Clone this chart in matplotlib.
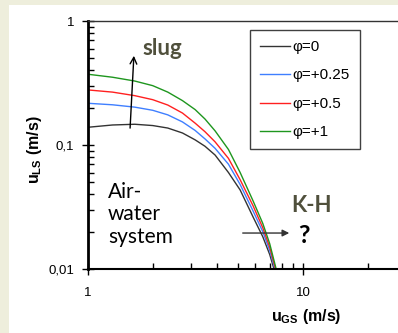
import matplotlib
matplotlib.use("Agg")
import matplotlib.pyplot as plt
from matplotlib.patches import Rectangle
from matplotlib.ticker import FixedLocator, LogLocator, NullFormatter

plt.rcParams["font.family"] = ["Liberation Sans", "DejaVu Sans"]
plt.rcParams["mathtext.fontset"] = "custom"
plt.rcParams["mathtext.rm"] = "Liberation Sans"
plt.rcParams["mathtext.bf"] = "Liberation Sans:bold"

# gas superficial velocity (m/s) and liquid superficial velocity (m/s) per phi
u_gs = [1.0, 1.3, 1.65, 2.0, 2.35, 2.75, 3.15, 3.5, 3.9, 4.5, 5.1, 5.85, 6.5, 7.0]
phi0 = [0.139, 0.145, 0.147, 0.1435, 0.137, 0.125, 0.110, 0.0977, 0.083, 0.060, 0.0434, 0.0264, 0.0182, 0.0131]
phi025 = [0.217, 0.211, 0.202, 0.1905, 0.175, 0.1535, 0.131, 0.112, 0.094, 0.070, 0.048, 0.0295, 0.020, 0.0141]
phi05 = [0.278, 0.267, 0.250, 0.232, 0.210, 0.181, 0.150, 0.128, 0.106, 0.078, 0.0525, 0.0325, 0.0215, 0.0150]
phi1 = [0.372, 0.352, 0.328, 0.301, 0.267, 0.228, 0.193, 0.162, 0.130, 0.092, 0.0600, 0.0356, 0.0233, 0.0160]
end_x = [7.33, 7.4, 7.45, 7.5]
end_y = 0.01

labels = ["φ=0", "φ=+0.25", "φ=+0.5", "φ=+1"]
colors = ["#333333", "#3F7FFF", "#FF2020", "#1E961E"]
series = [phi0, phi025, phi05, phi1]

fig = plt.figure(figsize=(3.98, 3.33), dpi=100)
fig.patch.set_facecolor("#EEEEDC")
fig.patches.append(Rectangle((9 / 398, 0), 1, 328 / 333, transform=fig.transFigure,
                             facecolor="white", edgecolor="none", zorder=-1))

ax = fig.add_axes([88 / 398, 64 / 333, 317.6 / 398, 248 / 333])
ax.set_zorder(1)
ax.set_facecolor("white")

for vals, ex, lab, c in zip(series, end_x, labels, colors):
    ax.plot(u_gs + [ex], vals + [end_y], color=c, lw=1.0, label=lab)

ax.set_xscale("log")
ax.set_yscale("log")
ax.set_xlim(1, 30)
ax.set_ylim(0.01, 1)

ax.xaxis.set_major_locator(FixedLocator([1, 10]))
ax.set_xticklabels(["1", "10"])
ax.xaxis.set_minor_locator(LogLocator(base=10, subs=range(2, 10)))
ax.xaxis.set_minor_formatter(NullFormatter())
ax.yaxis.set_major_locator(FixedLocator([0.01, 0.1, 1]))
ax.set_yticklabels(["0,01", "0,1", "1"])
ax.yaxis.set_minor_locator(LogLocator(base=10, subs=range(2, 10)))
ax.yaxis.set_minor_formatter(NullFormatter())

ax.tick_params(which="major", direction="inout", length=8, width=1, labelsize=9.5, colors="black")
ax.tick_params(which="minor", direction="in", length=4, width=1)
ax.tick_params(axis="x", which="major", pad=9)
ax.tick_params(axis="y", which="major", pad=6)

ax.spines["left"].set_linewidth(2)
ax.spines["bottom"].set_linewidth(1.5)
ax.spines["top"].set_linewidth(1)
ax.spines["top"].set_color("#333333")
ax.spines["right"].set_visible(False)

fig.text(35 / 398, 1 - 150 / 333, r"$\mathbf{u}_{\mathbf{LS}}$ (m/s)", rotation=90,
         ha="center", va="center", fontsize=11.5, fontweight="bold")
fig.text(306 / 398, 1 - 316 / 333, r"$\mathbf{u}_{\mathbf{GS}}$ (m/s)",
         ha="center", va="center", fontsize=11.5, fontweight="bold")

leg = ax.legend(loc="upper left", bbox_to_anchor=(250 / 398, 303 / 333), bbox_transform=fig.transFigure,
                borderaxespad=0, fancybox=False, framealpha=1, edgecolor="#404040",
                fontsize=11, handlelength=2.0, handletextpad=0.15, labelspacing=0.95, borderpad=0.65)
leg.get_frame().set_linewidth(1)

ax.annotate("", xy=(1.637, 0.552), xytext=(1.567, 0.13),
            arrowprops=dict(arrowstyle="->", lw=1, color="black", mutation_scale=12))
ax.text(1.80, 0.532, "slug", fontsize=16, fontweight="bold", color="#50503C",
        family=["Lato", "DejaVu Sans"], ha="left", va="baseline")

ax.text(1.239, 0.0503, "Air-\nwater\nsystem", fontsize=15, family=["Lato", "DejaVu Sans"],
        ha="left", va="top", linespacing=1.15, color="black")

ax.text(8.79, 0.0288, "K-H", fontsize=16, fontweight="bold", color="#50503C",
        family=["Lato", "DejaVu Sans"], ha="left", va="baseline")
ax.annotate("", xy=(8.89, 0.0195), xytext=(5.09, 0.0195),
            arrowprops=dict(arrowstyle="-|>", lw=1, color="#333333", mutation_scale=10))
ax.text(9.48, 0.0162, "?", fontsize=18, fontweight="bold", color="black",
        family=["Lato", "DejaVu Sans"], ha="left", va="baseline")

fig.savefig("out.png", dpi=100)
